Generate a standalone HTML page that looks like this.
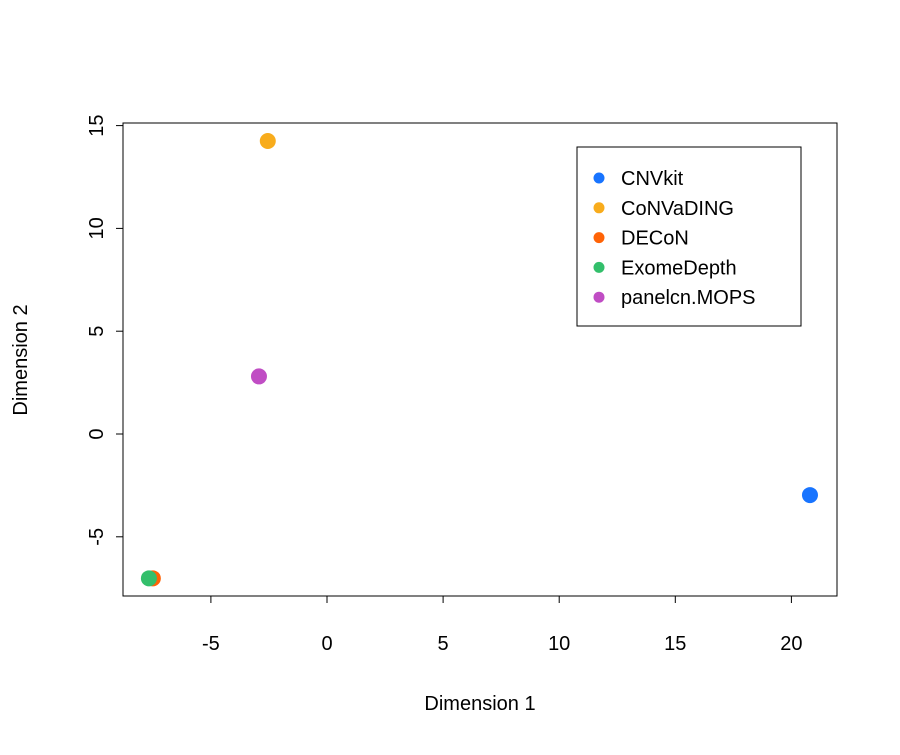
<!DOCTYPE html>
<html><head><meta charset="utf-8"><style>
body{margin:0;background:#fff}
svg text{font-family:"Liberation Sans",sans-serif;fill:#000}
</style></head><body>
<svg id="c" width="900" height="750" xmlns="http://www.w3.org/2000/svg"></svg>
<script>
const names=["CNVkit","CoNVaDING","DECoN","ExomeDepth","panelcn.MOPS"];
const xVals=[20.8,-2.55,-7.5,-7.67,-2.93];
const yVals=[-2.97,14.25,-7.02,-7.02,2.8];
const colors=["#1874ff","#f8ac1c","#ff6306","#33bf6b","#c04dc4"];
const xTicks=[-5,0,5,10,15,20];
const yTicks=[-5,0,5,10,15];
const NS="http://www.w3.org/2000/svg";
const svg=document.getElementById('c');
const X=v=>327+v*23.22, Y=v=>434-v*20.56;
function el(t,a,p){const e=document.createElementNS(NS,t);for(const k in a)e.setAttribute(k,a[k]);(p||svg).appendChild(e);return e;}
const box=el('rect',{x:123,y:123,width:714,height:473,fill:'none',stroke:'#000','stroke-width':1});


el('line',{x1:X(-5),x2:X(20),y1:596,y2:596,stroke:'#000'});
xTicks.forEach(t=>{
  el('line',{x1:X(t),x2:X(t),y1:596,y2:603,stroke:'#000'});
  const tx=el('text',{x:X(t),y:650,'font-size':20,'text-anchor':'middle'});tx.textContent=t;
  
  
});
el('line',{x1:123,x2:123,y1:Y(-5),y2:Y(15),stroke:'#000'});
yTicks.forEach(t=>{
  el('line',{x1:116,x2:123,y1:Y(t),y2:Y(t),stroke:'#000'});
  const tx=el('text',{x:0,y:0,'font-size':20,'text-anchor':'middle',transform:`translate(103,${Y(t)}) rotate(-90)`});tx.textContent=t;
  
  
});
const xt=el('text',{x:480,y:710,'font-size':20,'text-anchor':'middle'});xt.textContent='Dimension 1';


const yt=el('text',{x:0,y:0,'font-size':20,'text-anchor':'middle',transform:'translate(27,360) rotate(-90)'});yt.textContent='Dimension 2';


names.forEach((n,i)=>{
  const c=el('circle',{cx:X(xVals[i]),cy:Y(yVals[i]),r:8,fill:colors[i]});
  
  
});
const lg=el('rect',{x:577,y:147,width:224,height:179,fill:'#fff',stroke:'#000'});


names.forEach((n,i)=>{
  const y=178+i*29.8;
  el('circle',{cx:599,cy:y,r:5.5,fill:colors[i]});
  const t=el('text',{x:621,y:y+7,'font-size':20});t.textContent=n;
  
  
});
</script>
</body></html>
